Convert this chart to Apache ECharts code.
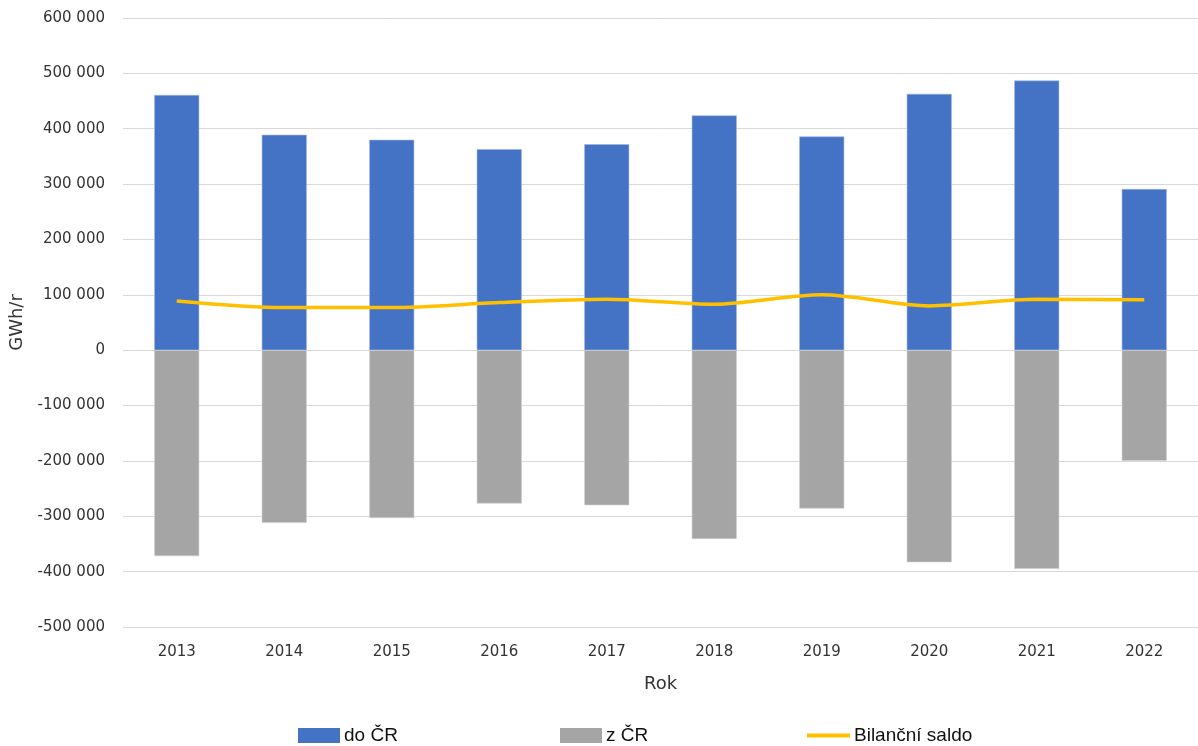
<!DOCTYPE html>
<html>
<head>
<meta charset="utf-8">
<script src="https://cdn.jsdelivr.net/npm/echarts@6/dist/echarts.min.js"></script>
<style>
html,body{margin:0;padding:0;background:#fff;}
#chart{width:1198px;height:746px;}
</style>
</head>
<body>
<div id="chart"></div>
<script>
// Years on the category axis
const years = ['2013','2014','2015','2016','2017','2018','2019','2020','2021','2022'];
// Flows into the Czech Republic (GWh/r)
const doCR = [461000, 389000, 380000, 363000, 372000, 424000, 386000, 463000, 487000, 291000];
// Flows out of the Czech Republic (GWh/r), drawn below zero
const zCR = [-372000, -312000, -303000, -277000, -280000, -341000, -286000, -383000, -395000, -200000];
// Net balance
const saldo = [89000, 77000, 77000, 86000, 92000, 83000, 100000, 80000, 92000, 91000];

const seriesNames = ['do ČR', 'z ČR', 'Bilanční saldo'];

const fmt = v => {
  const s = Math.abs(v).toString().replace(/\B(?=(\d{3})+(?!\d))/g, ' ');
  return (v < 0 ? '-' : '') + s;
};

const labelFont = '"DejaVu Sans", sans-serif';
const legendFont = '"Liberation Sans Narrow", "Liberation Sans", sans-serif';
const textColor = '#333';

const chart = echarts.init(document.getElementById('chart'));
const legendCommon = {
  top: 726,
  padding: 0,
  itemWidth: 42,
  itemHeight: 15,
  itemGap: 0,
  itemStyle: {borderWidth: 0},
  textStyle: {fontFamily: legendFont, fontSize: 19, color: '#111', padding: [0,0,0,-1]}
};
chart.setOption({
  animation: false,
  grid: {left: 123, width: 1083, top: 18, bottom: 119, containLabel: false},
  legend: [
    Object.assign({}, legendCommon, {left: 298, data: [{name: seriesNames[0], icon: 'rect'}]}),
    Object.assign({}, legendCommon, {left: 560, data: [{name: seriesNames[1], icon: 'rect'}]}),
    Object.assign({}, legendCommon, {left: 807, itemWidth: 43, itemHeight: 4, data: [{name: seriesNames[2], icon: 'rect'}]})
  ],
  xAxis: {
    type: 'category',
    data: years,
    position: 'bottom',
    axisLine: {show: false, onZero: false},
    axisTick: {show: false},
    axisLabel: {margin: 18, fontFamily: labelFont, fontSize: 15, color: textColor},
    name: 'Rok',
    nameLocation: 'middle',
    nameGap: 48,
    nameTextStyle: {fontFamily: labelFont, fontSize: 18, color: textColor}
  },
  yAxis: {
    type: 'value',
    min: -500000,
    max: 600000,
    interval: 100000,
    axisLine: {show: false},
    axisTick: {show: false},
    axisLabel: {margin: 18, fontFamily: labelFont, fontSize: 15, color: textColor, formatter: fmt},
    splitLine: {lineStyle: {color: '#d9d9d9', width: 1}},
    name: 'GWh/r',
    nameLocation: 'middle',
    nameRotate: 90,
    nameGap: 91,
    nameTextStyle: {fontFamily: labelFont, fontSize: 18, color: textColor}
  },
  series: [
    {
      name: seriesNames[0], type: 'bar', stack: 'flow', data: doCR, barWidth: 45,
      itemStyle: {color: '#4472C4', borderColor: '#9db4e0', borderWidth: 0.6}
    },
    {
      name: seriesNames[1], type: 'bar', stack: 'flow', data: zCR, barWidth: 45,
      itemStyle: {color: '#A5A5A5', borderColor: '#cfcfcf', borderWidth: 0.6}
    },
    {
      name: seriesNames[2], type: 'line', data: saldo, smooth: 0.3,
      symbol: 'none', z: 5,
      lineStyle: {color: '#FFC000', width: 3.5},
      itemStyle: {color: '#FFC000'}
    }
  ]
});
</script>
</body>
</html>
